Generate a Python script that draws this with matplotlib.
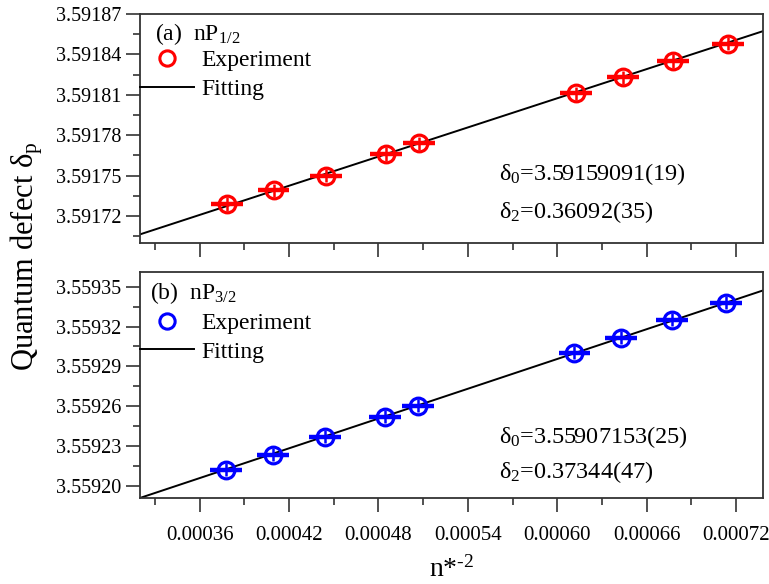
import matplotlib
matplotlib.use("Agg")
import matplotlib.pyplot as plt
import numpy as np
from matplotlib.ticker import MultipleLocator, FormatStrFormatter
from matplotlib.lines import Line2D

plt.rcParams['font.family'] = ['Liberation Serif', 'DejaVu Serif']
plt.rcParams['mathtext.fontset'] = 'custom'
plt.rcParams['mathtext.rm'] = 'Liberation Serif'
plt.rcParams['mathtext.default'] = 'regular'

# ---- data ----
x_p12 = [0.0003784, 0.0004096, 0.0004449, 0.0004850, 0.0005071,
         0.0006124, 0.0006439, 0.0006779, 0.0007146]
d_p12 = [3.591729, 3.591739, 3.591750, 3.591766, 3.591774,
         3.591811, 3.591823, 3.591835, 3.591848]
x_p32 = [0.0003779, 0.0004091, 0.0004443, 0.0004843, 0.0005063,
         0.0006115, 0.0006429, 0.0006767, 0.0007134]
d_p32 = [3.5592124, 3.5592237, 3.5592372, 3.5592523, 3.5592605,
         3.5593004, 3.5593117, 3.5593252, 3.5593380]
xerr_val = 1.07e-5
yerr_p12 = 5.0e-6
yerr_p32 = 5.0e-6
fit_p12 = (3.59159091, 0.36092)
fit_p32 = (3.55907153, 0.37344)
labels_p12 = ("(a)  nP$_{1/2}$", "δ$_0$=3.59159091(19)", "δ$_2$=0.36092(35)")
labels_p32 = ("(b)  nP$_{3/2}$", "δ$_0$=3.55907153(25)", "δ$_2$=0.37344(47)")
xticks = [0.00036, 0.00042, 0.00048, 0.00054, 0.00060, 0.00066, 0.00072]
xlim = (0.00032, 0.000738)
ylim_p12 = (3.59170, 3.59187)
ylim_p32 = (3.559191, 3.559361)

W, H = 769, 584
fig = plt.figure(figsize=(W / 100, H / 100), dpi=100)
L, R = 140 / W, 763 / W
ax1 = fig.add_axes([L, 1 - 243 / H, R - L, (243 - 14) / H])
ax2 = fig.add_axes([L, 1 - 498 / H, R - L, (498 - 272) / H], sharex=ax1)

spine_col = '#333333'


def panel(ax, xs, ds, yerr, color, fit, labels, ylim, text_pos):
    xx = np.linspace(xlim[0], xlim[1], 50)
    ax.plot(xx, fit[0] + fit[1] * xx, color='black', lw=1.4, zorder=2)
    ax.errorbar(xs, ds, xerr=xerr_val, fmt='none', ecolor=color,
                elinewidth=3.2, capsize=0, zorder=3)
    ax.errorbar(xs, ds, yerr=yerr, fmt='o', color=color, mfc='none',
                mec=color, ms=12, mew=2.3, ecolor=color, elinewidth=1.8,
                capsize=0, zorder=4)
    ax.set_xlim(*xlim)
    ax.set_ylim(*ylim)
    ax.yaxis.set_major_locator(MultipleLocator(0.00003))
    ax.yaxis.set_minor_locator(MultipleLocator(0.000015))
    ax.yaxis.set_major_formatter(FormatStrFormatter('%.5f'))
    ax.set_xticks(xticks)
    ax.xaxis.set_minor_locator(MultipleLocator(0.00003))
    ax.xaxis.set_major_formatter(FormatStrFormatter('%.5f'))
    ax.tick_params(which='major', direction='out', length=10, width=1.2,
                   color=spine_col, labelsize=14.5, top=False, right=False)
    ax.tick_params(which='minor', direction='out', length=5, width=1.2,
                   color=spine_col, top=False, right=False)
    ax.tick_params(axis='x', which='major', pad=10, labelsize=15)
    for s in ax.spines.values():
        s.set_color(spine_col)
        s.set_linewidth(1.3)
    ax.text(text_pos[0], text_pos[1], labels[0], transform=ax.transAxes,
            fontsize=17, va='baseline', ha='left')
    ax.text(0.576, text_pos[2], labels[1], transform=ax.transAxes,
            fontsize=17.5, va='baseline', ha='left')
    ax.text(0.576, text_pos[3], labels[2], transform=ax.transAxes,
            fontsize=17.5, va='baseline', ha='left')
    handles = [Line2D([], [], ls='none', marker='o', mfc='none', mec=color,
                      ms=11, mew=2.2),
               Line2D([], [], color='black', lw=1.4)]
    ax.legend(handles, ['Experiment', 'Fitting'], loc='upper left',
              bbox_to_anchor=(0, text_pos[4]), frameon=False, fontsize=17,
              borderaxespad=0, borderpad=0, handlelength=2.3,
              handletextpad=0.3, labelspacing=0.3)


panel(ax1, x_p12, d_p12, yerr_p12, '#ff0000', fit_p12, labels_p12,
      ylim_p12, (0.024, 0.886, 0.275, 0.109, 0.843))
panel(ax2, x_p32, d_p32, yerr_p32, '#0000ff', fit_p32, labels_p32,
      ylim_p32, (0.016, 0.881, 0.243, 0.088, 0.821))
plt.setp(ax1.get_xticklabels(), visible=False)

ax2.set_xlabel('n*$^{\u2010 2}$', fontsize=20, labelpad=8)
fig.text(27 / W, 1 - 256 / H, 'Quantum defect δ$_p$', rotation=90,
         fontsize=22, ha='center', va='center')

fig.savefig('out.png', dpi=100)
